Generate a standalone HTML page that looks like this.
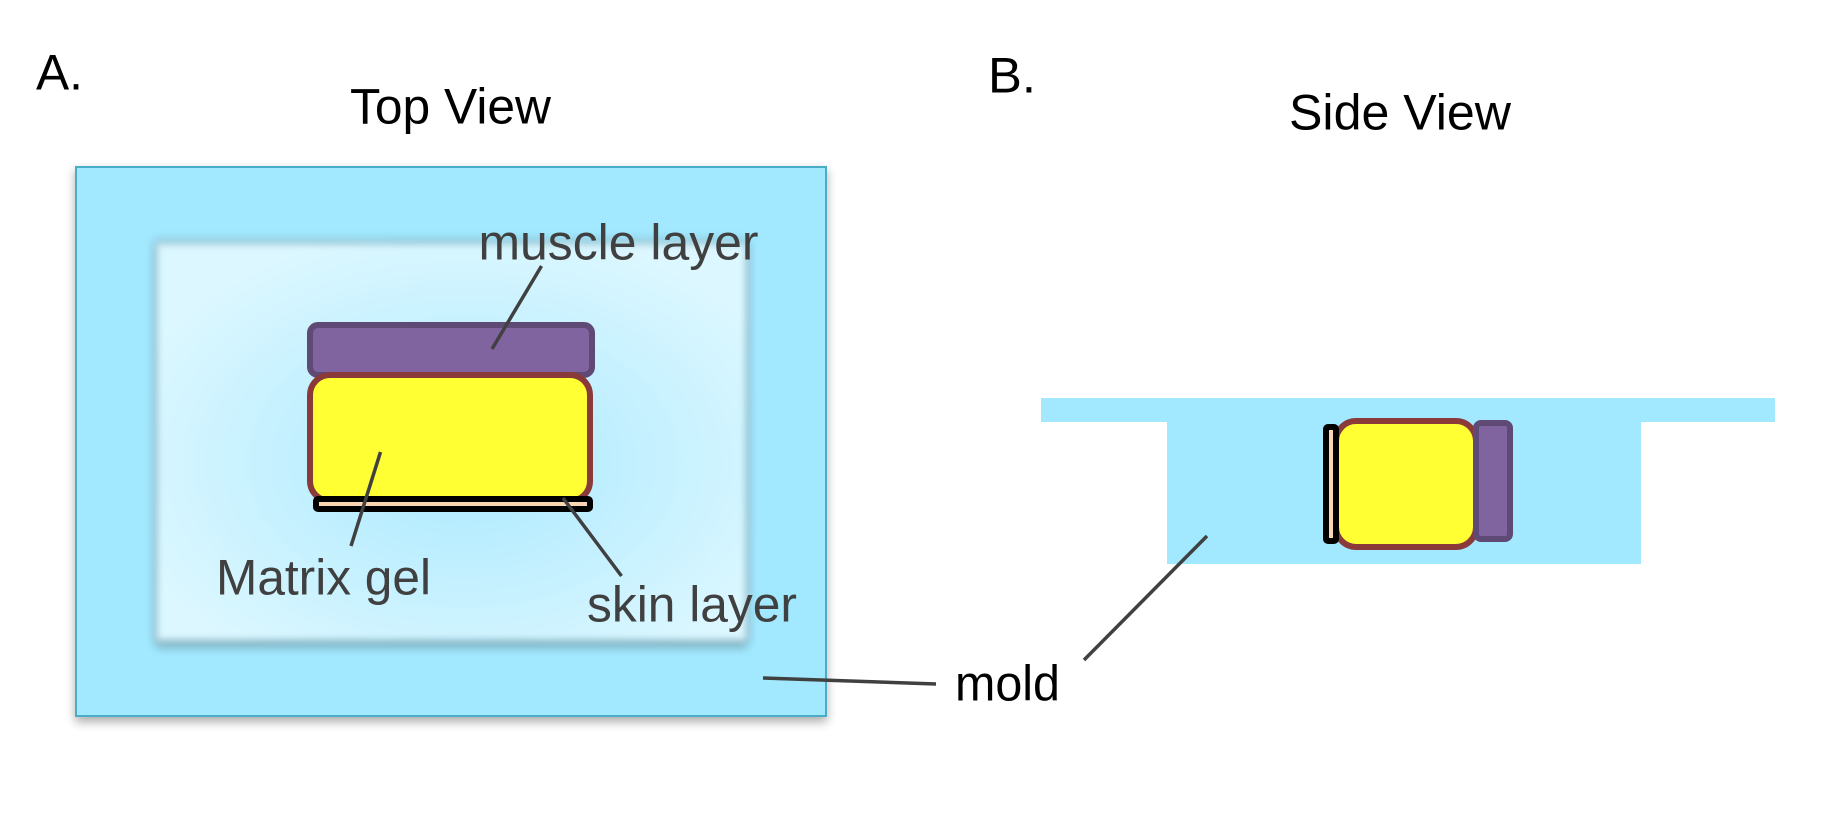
<!DOCTYPE html>
<html>
<head>
<meta charset="utf-8">
<style>
html,body{margin:0;padding:0;background:#fff;width:1830px;height:818px;overflow:hidden}
svg{display:block}
text{font-family:"Liberation Sans",Arial,sans-serif;font-size:50px}
</style>
</head>
<body>
<svg width="1830" height="818" viewBox="0 0 1830 818" xmlns="http://www.w3.org/2000/svg">
<defs>
<radialGradient id="g" cx="52%" cy="55%" r="60%">
<stop offset="0.1" stop-color="#b0ebff"/>
<stop offset="1" stop-color="#dcf7ff"/>
</radialGradient>
<filter id="b" x="-10%" y="-10%" width="120%" height="120%"><feGaussianBlur stdDeviation="4"/></filter>
<filter id="s" x="-10%" y="-10%" width="120%" height="120%"><feGaussianBlur stdDeviation="5"/></filter>
</defs>

<!-- top view mold -->
<rect x="75" y="170" width="752" height="552" fill="#000" opacity=".32" filter="url(#s)"/>
<rect x="76" y="167" width="750" height="549" fill="#a2e9ff" stroke="#4aacc6" stroke-width="2"/>

<!-- inner cavity -->
<rect x="154" y="239" width="595" height="403" fill="#000" opacity=".16" filter="url(#s)"/>
<rect x="156" y="246" width="591" height="402" fill="#000" opacity=".22" filter="url(#s)"/>
<rect x="156" y="243" width="591" height="398" fill="url(#g)" filter="url(#b)"/>

<!-- muscle -->
<rect x="310" y="325" width="282" height="50" rx="8" fill="#8064a0" stroke="#5f4a75" stroke-width="6"/>
<!-- gel -->
<rect x="310" y="375" width="280" height="126" rx="20" fill="#ffff33" stroke="#8b3a3a" stroke-width="6"/>
<!-- skin -->
<rect x="316" y="499" width="274" height="10" rx="2" fill="#fcd5b5" stroke="#000" stroke-width="6"/>

<!-- side view mold -->
<rect x="1041" y="398" width="734" height="24" fill="#a2e9ff"/>
<rect x="1167" y="422" width="474" height="142" fill="#a2e9ff"/>
<rect x="1336" y="421" width="140" height="126" rx="20" fill="#ffff33" stroke="#8b3a3a" stroke-width="6"/>
<rect x="1476" y="423" width="34" height="116" rx="5" fill="#8064a0" stroke="#5f4a75" stroke-width="6"/>
<rect x="1326" y="427" width="10" height="114" rx="2" fill="#fcd5b5" stroke="#000" stroke-width="6"/>

<!-- leader lines -->
<g stroke="#404040" stroke-width="3.500" fill="none">
<line x1="541.500" y1="266" x2="492" y2="349"/>
<line x1="380.500" y1="452" x2="351" y2="546"/>
<line x1="563" y1="498" x2="621.500" y2="576"/>
<line x1="763" y1="678" x2="936" y2="684"/>
<line x1="1207" y1="536" x2="1084" y2="660"/>
</g>

<!-- labels -->
<text x="36" y="89.500" fill="#000" textLength="47" lengthAdjust="spacingAndGlyphs">A.</text>
<text x="350" y="123.500" fill="#000" textLength="201" lengthAdjust="spacingAndGlyphs">Top View</text>
<text x="988" y="92.500" fill="#000" textLength="48" lengthAdjust="spacingAndGlyphs">B.</text>
<text x="1289" y="129.500" fill="#000" textLength="222" lengthAdjust="spacingAndGlyphs">Side View</text>
<text x="955" y="700.500" fill="#000" textLength="105" lengthAdjust="spacingAndGlyphs">mold</text>
<text x="478.500" y="259.500" fill="#404040" textLength="280" lengthAdjust="spacingAndGlyphs">muscle layer</text>
<text x="216" y="594.500" fill="#404040" textLength="215" lengthAdjust="spacingAndGlyphs">Matrix gel</text>
<text x="587" y="621.500" fill="#404040" textLength="210" lengthAdjust="spacingAndGlyphs">skin layer</text>
</svg>
</body>
</html>
